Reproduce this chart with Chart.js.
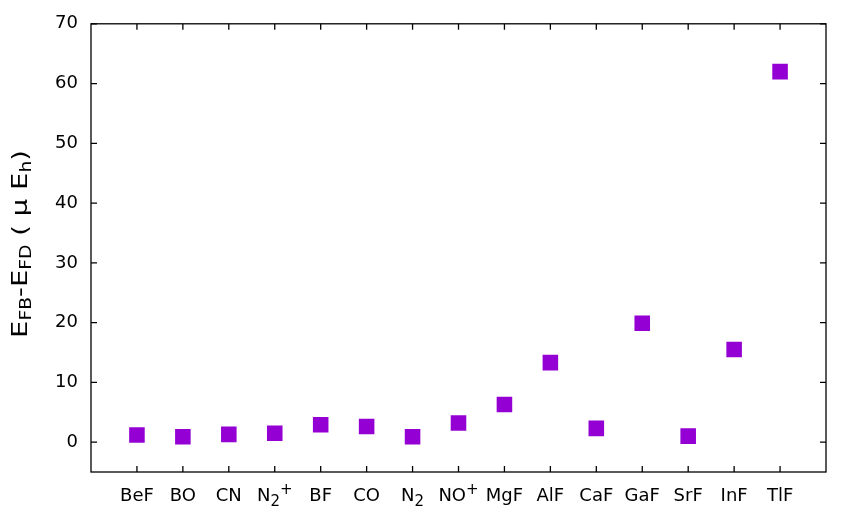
<!DOCTYPE html>
<html>
<head>
<meta charset="utf-8">
<script src="https://cdn.jsdelivr.net/npm/chart.js@4"></script>
<style>
html,body{margin:0;padding:0;background:#fff;}
</style>
</head>
<body>
<canvas id="grafico" width="864" height="518"></canvas>
<script>
// moleculas e diferenca de energia (micro Hartree); _x = subscrito, ^x = sobrescrito
const molecules = ["BeF","BO","CN","N_2^+","BF","CO","N_2","NO^+","MgF","AlF","CaF","GaF","SrF","InF","TlF"];
const energyDiff = [1.2,0.9,1.3,1.5,2.9,2.6,0.9,3.2,6.3,13.3,2.3,19.9,1.0,15.5,62.0];
const yTicks = [0,10,20,30,40,50,60,70];
const yMin = -5;
const yMax = 70;

const FONT = "'DejaVu Sans', sans-serif";

// titulo do eixo y com subscritos
const yTitle = "E_{FB}-E_{FD} ( μ E_{h})";

function parseRich(str){
  const segs = [];
  const re = /([_^])(\{[^}]*\}|.)|([^_^]+)/g;
  let m;
  while((m = re.exec(str)) !== null){
    if(m[3]) segs.push({t: m[3], k: 0});
    else {
      const t = m[2].startsWith("{") ? m[2].slice(1, -1) : m[2];
      segs.push({t: t, k: m[1] === "_" ? 1 : -1});
    }
  }
  return segs;
}

function drawRich(ctx, segs, x, y, main, small, subOff, supOff, align, stretch){
  let total = 0;
  segs.forEach(s => {
    ctx.font = (s.k ? small : main) + "px " + FONT;
    s.w = ctx.measureText(s.t).width;
    total += s.w;
  });
  ctx.save();
  ctx.translate(x, y);
  if(stretch) {
    const f = stretch / total;
    ctx.scale(f, 1);
  }
  let cx = align === "center" ? -total / 2 : 0;
  segs.forEach(s => {
    ctx.font = (s.k ? small : main) + "px " + FONT;
    const dy = s.k === 1 ? subOff : (s.k === -1 ? -supOff : 0);
    ctx.fillText(s.t, cx, dy);
    cx += s.w;
  });
  ctx.restore();
}

const frame = {
  id: "frame",
  beforeDatasetsDraw(chart){
    const ctx = chart.ctx;
    const a = chart.chartArea;
    const xs = chart.scales.x;
    const ys = chart.scales.y;
    ctx.save();
    ctx.strokeStyle = "#000";
    ctx.lineWidth = 1.3;
    ctx.strokeRect(a.left, a.top, a.right - a.left, a.bottom - a.top);
    ctx.beginPath();
    for(let i = 0; i < molecules.length; i++){
      const px = xs.getPixelForValue(i + 1);
      ctx.moveTo(px, a.bottom); ctx.lineTo(px, a.bottom - 6);
      ctx.moveTo(px, a.top); ctx.lineTo(px, a.top + 6);
    }
    yTicks.forEach(v => {
      const py = ys.getPixelForValue(v);
      ctx.moveTo(a.left, py); ctx.lineTo(a.left + 6, py);
      ctx.moveTo(a.right, py); ctx.lineTo(a.right - 6, py);
    });
    ctx.stroke();
    ctx.restore();
  },
  afterDraw(chart){
    const ctx = chart.ctx;
    const a = chart.chartArea;
    const xs = chart.scales.x;
    ctx.save();
    ctx.fillStyle = "#000";
    ctx.textBaseline = "alphabetic";
    // rotulos do eixo x
    molecules.forEach((m, i) => {
      const px = xs.getPixelForValue(i + 1);
      drawRich(ctx, parseRich(m), px, 501, 18, 15, 5, 7, "center");
    });
    // titulo do eixo y
    ctx.translate(27, 244);
    ctx.rotate(-Math.PI / 2);
    drawRich(ctx, parseRich(yTitle), 0, 0, 22, 15, 4, 8, "center", 188);
    ctx.restore();
  }
};

new Chart(document.getElementById("grafico"), {
  type: "scatter",
  data: {
    datasets: [{
      data: energyDiff.map((v, i) => ({x: i + 1, y: v})),
      pointStyle: "rect",
      pointRadius: 11,
      backgroundColor: "#9400d3",
      borderWidth: 0
    }]
  },
  options: {
    responsive: false,
    animation: false,
    events: [],
    layout: {padding: {top: 23, right: 38, left: 0, bottom: 0}},
    plugins: {legend: {display: false}, tooltip: {enabled: false}},
    scales: {
      x: {
        type: "linear",
        min: 0,
        max: molecules.length + 1,
        grid: {display: false, drawTicks: false},
        border: {display: false},
        afterBuildTicks: s => { s.ticks = molecules.map((m, i) => ({value: i + 1})); },
        afterFit: s => { s.height = 46; },
        ticks: {display: false}
      },
      y: {
        min: yMin,
        max: yMax,
        grid: {display: false, drawTicks: false},
        border: {display: false},
        afterBuildTicks: s => { s.ticks = yTicks.map(v => ({value: v})); },
        afterFit: s => { s.width = 91; },
        ticks: {
          padding: 13,
          color: "#000",
          font: {family: FONT, size: 18}
        }
      }
    }
  },
  plugins: [frame]
});
</script>
</body>
</html>
